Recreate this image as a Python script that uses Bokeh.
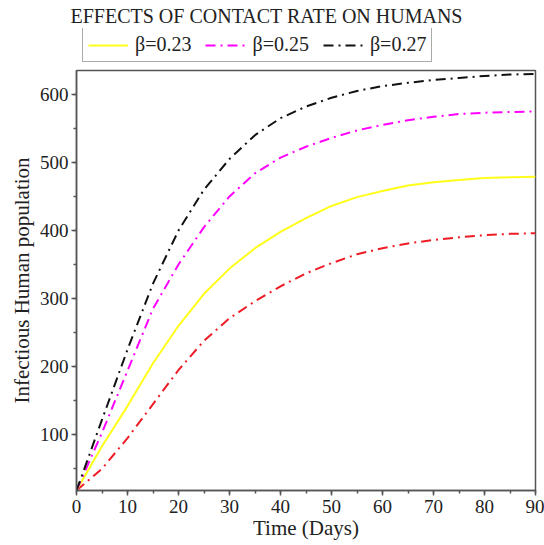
from bokeh.plotting import figure
from bokeh.layouts import column
from bokeh.models import Range1d, SingleIntervalTicker, Legend, LegendItem
from bokeh.embed import file_html
from bokeh.resources import INLINE

days = [0, 5, 10, 15, 20, 25, 30, 35, 40, 45, 50, 55, 60, 65, 70, 75, 80, 85, 90]
beta_023 = [18, 83, 142, 205, 260, 307, 344, 374, 398, 418, 436, 449, 458, 466, 471, 474, 477, 478, 479]
beta_025 = [18, 103, 194, 285, 350, 405, 450, 484, 507, 523, 536, 547, 555, 562, 567, 571, 573, 574, 575]
beta_027 = [18, 122, 225, 322, 400, 460, 505, 540, 565, 582, 595, 605, 612, 617, 621, 624, 627, 629, 630]
beta_red = [18, 50, 95, 145, 195, 238, 271, 296, 318, 337, 352, 365, 374, 381, 386, 390, 393, 395, 396]
legend_labels = ["β=0.23", "β=0.25", "β=0.27"]
title_text = "EFFECTS OF CONTACT RATE ON HUMANS"
x_label = "Time (Days)"
y_label = "Infectious Human population"

FONT = "Liberation Serif"
AX = "#555555"
TXT = "#222222"
COLORS = ["#FFFF1A", "#FF00FF", "#111111"]
DASHES = ["solid", "10 5 2 5", "10 5 2 5"]
SERIES = [beta_023, beta_025, beta_027]

# ---- header: title + legend ----
top = figure(width=544, height=68, output_backend="svg", toolbar_location=None,
             x_range=Range1d(0, 90), y_range=Range1d(18, 635),
             min_border=0, min_border_left=0, min_border_right=0,
             min_border_top=0, min_border_bottom=0)
top.axis.visible = False
top.grid.visible = False
top.outline_line_color = None
top.background_fill_color = "white"
top.border_fill_color = "white"
top.title.text = title_text
top.title.align = "left"
top.title.offset = -6
top.title.standoff = 4
top.title.text_font = FONT
top.title.text_font_size = "20px"
top.title.text_font_style = "normal"
top.title.text_color = TXT

hdr = [top.line(days, ys, line_color=c, line_width=2, line_dash=d, visible=False)
       for ys, c, d in zip(SERIES, COLORS, DASHES)]
legend = Legend(items=[LegendItem(label=lab, renderers=[r]) for lab, r in zip(legend_labels, hdr)],
                orientation="horizontal", location=(6, 6), click_policy="none",
                glyph_width=40, glyph_height=16, label_standoff=7, spacing=14,
                padding=5, margin=0, border_line_color=AX, border_line_width=1.5,
                label_text_font=FONT, label_text_font_size="20px",
                label_text_color=TXT, background_fill_alpha=1.0,
                inactive_fill_alpha=0.0)
top.add_layout(legend, "center")

# ---- main plot ----
p = figure(width=544, height=477, output_backend="svg", toolbar_location=None,
           x_range=Range1d(0, 90), y_range=Range1d(18, 635),
           min_border_left=76, min_border_right=9, min_border_top=2, min_border_bottom=55)
p.background_fill_color = "white"
p.border_fill_color = "white"
p.outline_line_color = AX
p.outline_line_width = 1.5
p.xgrid.visible = False
p.ygrid.visible = False

p.xaxis.ticker = SingleIntervalTicker(interval=10, num_minor_ticks=2)
p.yaxis.ticker = SingleIntervalTicker(interval=100, num_minor_ticks=2)
for ax in (p.xaxis[0], p.yaxis[0]):
    ax.axis_line_color = AX
    ax.axis_line_width = 1.5
    ax.major_tick_line_color = AX
    ax.minor_tick_line_color = AX
    ax.major_tick_line_width = 1.5
    ax.minor_tick_line_width = 1.5
    ax.major_tick_in = 0
    ax.major_tick_out = 5
    ax.minor_tick_in = 0
    ax.minor_tick_out = 3
    ax.major_label_text_font = FONT
    ax.major_label_text_font_size = "19px"
    ax.major_label_text_color = TXT
    ax.axis_label_text_font = FONT
    ax.axis_label_text_font_size = "21px"
    ax.axis_label_text_font_style = "normal"
    ax.axis_label_text_color = TXT
p.xaxis.axis_label = x_label
p.yaxis.axis_label = y_label
p.xaxis.axis_label_standoff = 0
p.yaxis.axis_label_standoff = 3
p.xaxis.major_label_standoff = 4
p.yaxis.major_label_standoff = 3

p.line(days, beta_red, line_color="#EE1C25", line_width=2, line_dash="10 5 2 5")
for ys, c, d in zip(SERIES, COLORS, DASHES):
    p.line(days, ys, line_color=c, line_width=2, line_dash=d)

layout = column(top, p, spacing=0)
open("out.html", "w").write(file_html(layout, INLINE))
